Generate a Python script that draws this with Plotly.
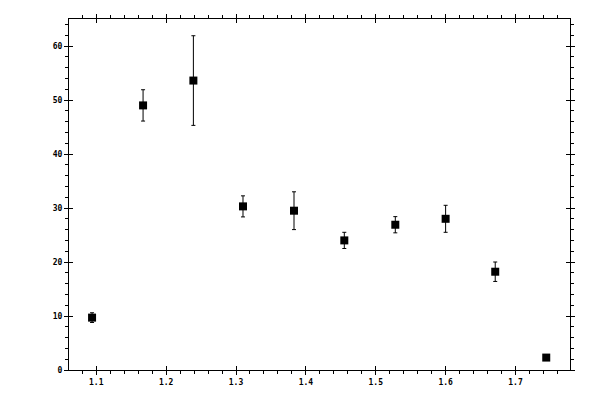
import plotly.graph_objects as go

# measured points
x_vals = [1.094, 1.167, 1.239, 1.310, 1.383, 1.455, 1.528, 1.600, 1.671, 1.744]
y_vals = [9.7, 49.0, 53.6, 30.3, 29.5, 24.0, 26.9, 28.0, 18.2, 2.3]
y_err = [0.9, 2.9, 8.3, 1.95, 3.5, 1.5, 1.5, 2.5, 1.8, 0.3]

x_range = [1.061, 1.778]
y_range = [0, 65]

fig = go.Figure()

fig.add_trace(go.Scatter(
    x=x_vals, y=y_vals,
    mode="markers",
    marker=dict(symbol="square", size=8, color="black"),
    error_y=dict(type="data", array=y_err, visible=True,
                 color="black", thickness=1, width=2),
    showlegend=False,
))

# ghost copy on overlay axes so the inner half of the major ticks gets drawn
fig.add_trace(go.Scatter(
    x=x_vals, y=y_vals,
    mode="markers",
    marker=dict(opacity=0),
    xaxis="x2", yaxis="y2",
    hoverinfo="skip",
    showlegend=False,
))

axis_font = dict(family="DejaVu Sans Mono", size=8, color="black", weight="bold")

# page body has an 8px margin, so shift the plot area back by that
fig.update_layout(
    width=600, height=400,
    margin=dict(l=61, r=38, t=11, b=38, autoexpand=False),
    paper_bgcolor="white",
    plot_bgcolor="white",
    font=axis_font,
    xaxis=dict(
        range=x_range, tick0=1.1, dtick=0.1, tickformat=".1f",
        ticks="outside", ticklen=4, tickwidth=1, tickcolor="black",
        minor=dict(dtick=0.02, ticks="outside", ticklen=3, tickcolor="black", showgrid=False),
        showline=True, linecolor="black", linewidth=1, mirror="allticks",
        showgrid=False, zeroline=False, tickfont=axis_font, automargin=False,
    ),
    yaxis=dict(
        range=y_range, tick0=0, dtick=10,
        ticks="outside", ticklen=4, tickwidth=1, tickcolor="black",
        minor=dict(dtick=2, ticks="outside", ticklen=3, tickcolor="black", showgrid=False),
        showline=True, linecolor="black", linewidth=1, mirror="allticks",
        showgrid=False, zeroline=False, tickfont=axis_font, automargin=False,
    ),
    xaxis2=dict(
        overlaying="x", range=x_range, tick0=1.1, dtick=0.1,
        ticks="inside", ticklen=4, tickcolor="black", mirror="allticks",
        showticklabels=False, showgrid=False, zeroline=False, showline=False,
        automargin=False,
    ),
    yaxis2=dict(
        overlaying="y", range=y_range, tick0=0, dtick=10,
        ticks="inside", ticklen=4, tickcolor="black", mirror="allticks",
        showticklabels=False, showgrid=False, zeroline=False, showline=False,
        automargin=False,
    ),
)

fig.write_html("out.html")
